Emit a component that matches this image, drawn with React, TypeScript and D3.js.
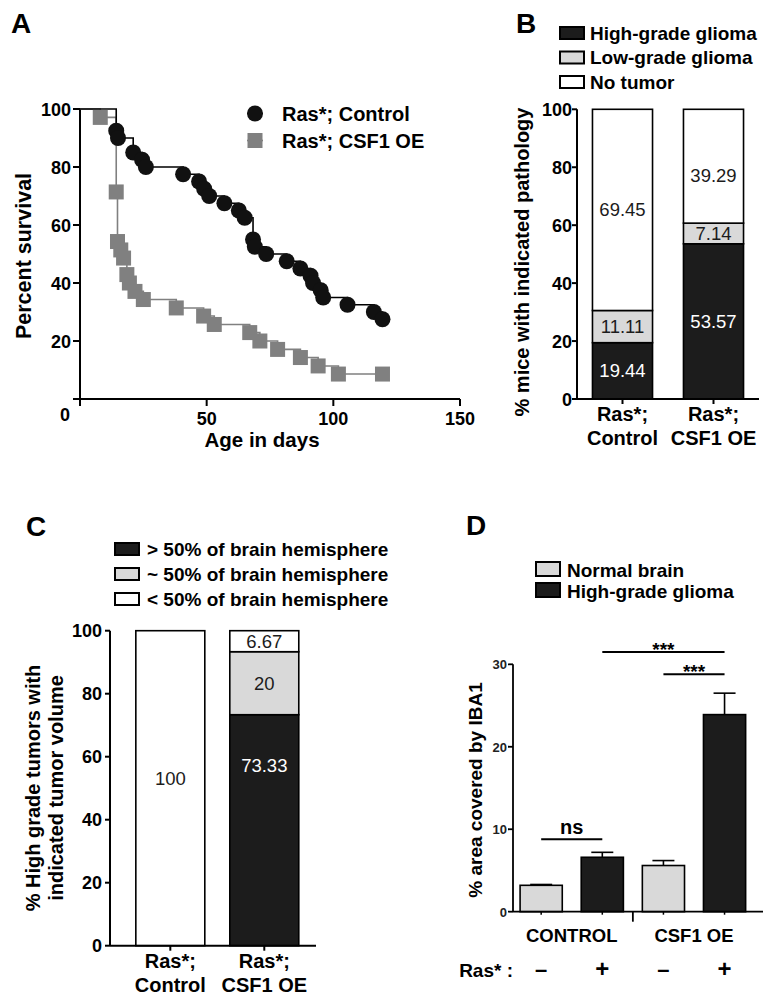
import React from "react";
import * as d3 from "d3";

// ---------------- DATA ----------------
// Panel A: Kaplan-Meier survival
const survivalSeries = ["Ras*; Control", "Ras*; CSF1 OE"];
const controlDays = [14.3, 15, 21, 24.5, 26, 40.7, 47, 49, 51, 57, 62.7, 65, 68.3, 69, 73.5, 81.6, 87, 91, 92, 95, 96, 105.6, 116, 119.4];
const controlSurv = [92.5, 90, 85, 82.5, 80, 77.5, 75, 72.5, 70, 67.5, 65, 62.5, 55, 52.5, 50, 47.5, 45, 42.5, 40, 37.5, 35, 32.5, 30, 27.5];
const csfDays = [8, 14.3, 14.8, 16.1, 17.2, 18.5, 19.5, 21.7, 25, 38, 48.8, 53, 67, 71, 78, 87, 94, 102, 119.4];
const csfSurv = [97.1, 71.4, 54.3, 51.4, 48.6, 42.9, 40, 37.1, 34.3, 31.4, 28.6, 25.7, 22.9, 20, 17.1, 14.3, 11.4, 8.6, 8.6];
const ageTicks = [0, 50, 100, 150];
const pctTicks = [0, 20, 40, 60, 80, 100];

// Panel B: pathology
const pathoGroups = ["Ras*;|Control", "Ras*;|CSF1 OE"];
const pathoCategories = ["High-grade glioma", "Low-grade glioma", "No tumor"];
const highGrade = [19.44, 53.57];
const lowGrade = [11.11, 7.14];
const noTumor = [69.45, 39.29];

// Panel C: tumor volume
const volGroups = ["Ras*;|Control", "Ras*;|CSF1 OE"];
const volCategories = ["> 50% of brain hemisphere", "~ 50% of brain hemisphere", "< 50% of brain hemisphere"];
const overHalf = [0, 73.33];
const aboutHalf = [0, 20];
const underHalf = [100, 6.67];

// Panel D: IBA1 coverage
const dTissues = ["Normal brain", "High-grade glioma"];
const dGroups = ["CONTROL", "CSF1 OE"];
const dRas = ["\u2013", "+", "\u2013", "+"];
const dMeans = [3.2, 6.6, 5.6, 23.9];
const dSem = [0.1, 0.6, 0.6, 2.6];
const dTicks = [0, 10, 20, 30];

// ---------------- STYLE ----------------
const FONT = "'Liberation Sans', Arial, Helvetica, sans-serif";
const BLACK = "#1c1c1c";
const LIGHT = "#d9d9d9";
const GRAY = "#808080";
const segFills = [BLACK, LIGHT, "#ffffff"];
const segText = ["#ffffff", "#1c1c1c", "#1c1c1c"];
const labelFracB = [[0.5, 0.5, 0.5], [0.5, 0.5, 0.42]];
const labelFracC = [[0.5, 0.5, 0.53], [0.78, 0.5, 0.5]];
const TICK_FS = 18;
const VAL_FS = 18.5;

function PanelA() {
  const x = d3.scaleLinear().domain([0, 150]).range([80, 460]);
  const y = d3.scaleLinear().domain([0, 100]).range([399, 109]);
  const line = d3.line<[number, number]>().x(d => x(d[0])).y(d => y(d[1])).curve(d3.curveStepAfter);
  const ctrl: [number, number][] = controlDays.map((d, i) => [d, controlSurv[i]]);
  const csf: [number, number][] = csfDays.map((d, i) => [d, csfSurv[i]]);
  return (
    <g fontFamily={FONT}>
      <text x={11} y={33} fontSize={28} fontWeight="bold">A</text>
      <line x1={x(0)} x2={x(0)} y1={y(0)} y2={y(100)} stroke="#000" strokeWidth={2} />
      <line x1={x(0)} x2={x(150)} y1={y(0)} y2={y(0)} stroke="#000" strokeWidth={2} />
      {pctTicks.map(t => (
        <g key={t}>
          <line x1={x(0) - 7} x2={x(0)} y1={y(t)} y2={y(t)} stroke="#000" strokeWidth={2} />
          {t > 0 && <text x={71} y={y(t) + 6.5} fontSize={TICK_FS} fontWeight="bold" textAnchor="end">{t}</text>}
        </g>
      ))}
      {ageTicks.map(t => (
        <g key={t}>
          <line x1={x(t)} x2={x(t)} y1={y(0)} y2={y(0) + 7} stroke="#000" strokeWidth={2} />
          {t > 0 && <text x={x(t)} y={425} fontSize={TICK_FS} fontWeight="bold" textAnchor="middle">{t}</text>}
        </g>
      ))}
      <text x={65} y={421} fontSize={TICK_FS} fontWeight="bold" textAnchor="middle">0</text>
      <text x={262} y={447} fontSize={20.5} fontWeight="bold" textAnchor="middle">Age in days</text>
      <text transform={`translate(31,256) rotate(-90)`} fontSize={21.5} fontWeight="bold" textAnchor="middle">Percent survival</text>
      <path d={line([[0, 100], ...csf]) || ""} fill="none" stroke={GRAY} strokeWidth={1.6} />
      <path d={line([[0, 100], ...ctrl]) || ""} fill="none" stroke="#000" strokeWidth={1.6} />
      {csf.map((d, i) => (
        <rect key={i} x={x(d[0]) - 7.5} y={y(d[1]) - 7.5} width={15} height={15} fill={GRAY} />
      ))}
      {ctrl.map((d, i) => (
        <circle key={i} cx={x(d[0])} cy={y(d[1])} r={8} fill="#111" />
      ))}
      {survivalSeries.map((s, i) => {
        const ly = 113.5 + i * 27;
        return (
          <g key={s}>
            <line x1={247} x2={263} y1={ly} y2={ly} stroke={i === 0 ? "#000" : GRAY} strokeWidth={1.6} />
            {i === 0 ? <circle cx={255} cy={ly} r={8} fill="#111" /> : <rect x={247.5} y={ly - 7.5} width={15} height={15} fill={GRAY} />}
            <text x={282} y={ly + 7} fontSize={20} fontWeight="bold">{s}</text>
          </g>
        );
      })}
    </g>
  );
}

function StackPanel(props: {
  letter: string; letterX: number; letterY: number;
  groups: string[]; cats: string[]; series: number[][];
  xRange: [number, number]; inner: number; outer: number; align: number;
  yRange: [number, number];
  tickRight: number; legendX: number; legendY: number; legendStep: number;
  textX: number; labelBase: number;
  titleLines: string[]; titleX: number[]; titleY: number;
  fracs: number[][];
}) {
  const p = props;
  const rows = p.groups.map((g, gi) => {
    const r: any = { group: g };
    p.cats.forEach((c, ci) => (r[c] = p.series[ci][gi]));
    return r;
  });
  const stacked = d3.stack<any>().keys(p.cats)(rows);
  const x = d3.scaleBand().domain(p.groups).range(p.xRange).paddingInner(p.inner).paddingOuter(p.outer).align(p.align);
  const y = d3.scaleLinear().domain([0, 100]).range(p.yRange);
  const bw = x.bandwidth();
  return (
    <g fontFamily={FONT}>
      <text x={p.letterX} y={p.letterY} fontSize={28} fontWeight="bold">{p.letter}</text>
      {p.cats.map((c, i) => (
        <g key={c}>
          <rect x={p.legendX} y={p.legendY + i * p.legendStep} width={24} height={12} fill={segFills[i]} stroke="#000" strokeWidth={2} />
          <text x={p.textX} y={p.legendY + i * p.legendStep + 12.5} fontSize={19} fontWeight="bold">{c}</text>
        </g>
      ))}
      {stacked.map((layer, li) =>
        layer.map((seg, gi) => {
          const v = seg[1] - seg[0];
          if (v <= 0) return null;
          const g = p.groups[gi];
          return (
            <rect key={`${li}-${gi}`} x={x(g)} y={y(seg[1])} width={bw} height={y(seg[0]) - y(seg[1])}
              fill={segFills[li]} stroke="#000" strokeWidth={1.6} />
          );
        })
      )}
      {stacked.map((layer, li) =>
        layer.map((seg, gi) => {
          const v = seg[1] - seg[0];
          if (v <= 0) return null;
          const g = p.groups[gi];
          const vy = y(seg[0] + v * p.fracs[gi][li]);
          return (
            <text key={`t${li}-${gi}`} x={(x(g) as number) + bw / 2} y={vy + 6.5} fontSize={VAL_FS} textAnchor="middle" fill={segText[li]}>
              {d3.format("")(v)}
            </text>
          );
        })
      )}
      <line x1={p.xRange[0]} x2={p.xRange[0]} y1={y(0)} y2={y(100)} stroke="#000" strokeWidth={2} />
      <line x1={p.xRange[0]} x2={p.xRange[1]} y1={y(0)} y2={y(0)} stroke="#000" strokeWidth={2} />
      {pctTicks.map(t => (
        <g key={t}>
          <line x1={p.xRange[0] - 5} x2={p.xRange[0]} y1={y(t)} y2={y(t)} stroke="#000" strokeWidth={2} />
          <text x={p.tickRight} y={y(t) + 6.5} fontSize={TICK_FS} fontWeight="bold" textAnchor="end">{t}</text>
        </g>
      ))}
      {p.groups.map(g => {
        const cx = (x(g) as number) + bw / 2;
        const [l1, l2] = g.split("|");
        return (
          <g key={g}>
            <line x1={cx} x2={cx} y1={y(0)} y2={y(0) + 5} stroke="#000" strokeWidth={2} />
            <text x={cx} y={p.labelBase} fontSize={20} fontWeight="bold" textAnchor="middle">{l1}</text>
            <text x={cx} y={p.labelBase + 24} fontSize={20} fontWeight="bold" textAnchor="middle">{l2}</text>
          </g>
        );
      })}
      {p.titleLines.map((t, i) => (
        <text key={t} transform={`translate(${p.titleX[i]},${p.titleY}) rotate(-90)`} fontSize={20} fontWeight="bold" textAnchor="middle">{t}</text>
      ))}
    </g>
  );
}

function PanelD() {
  const x = d3.scaleBand<number>().domain(d3.range(dMeans.length)).range([513, 763]).paddingInner(0.31).paddingOuter(0.2).align(0.29);
  const y = d3.scaleLinear().domain([0, 30]).range([911.7, 664.3]);
  const bw = x.bandwidth();
  const cx = (i: number) => (x(i) as number) + bw / 2;
  const sig = [
    { a: 0, b: 1, label: "ns", level: 8.8, size: 20, dy: -5 },
    { a: 1, b: 3, label: "***", level: 31.5, size: 19, dy: 4 },
    { a: 2, b: 3, label: "***", level: 28.8, size: 19, dy: 4 },
  ];
  return (
    <g fontFamily={FONT}>
      <text x={466} y={535} fontSize={28} fontWeight="bold">D</text>
      {dTissues.map((t, i) => (
        <g key={t}>
          <rect x={536} y={562 + i * 21} width={24} height={14} fill={i === 0 ? LIGHT : BLACK} stroke="#000" strokeWidth={2} />
          <text x={567} y={576.5 + i * 21} fontSize={19} fontWeight="bold">{t}</text>
        </g>
      ))}
      {dMeans.map((m, i) => (
        <g key={i}>
          <line x1={cx(i)} x2={cx(i)} y1={y(m)} y2={y(m + dSem[i])} stroke="#000" strokeWidth={1.6} />
          <line x1={cx(i) - 11} x2={cx(i) + 11} y1={y(m + dSem[i])} y2={y(m + dSem[i])} stroke="#000" strokeWidth={1.6} />
          <rect x={x(i)} y={y(m)} width={bw} height={y(0) - y(m)} fill={i % 2 === 0 ? LIGHT : BLACK} stroke="#000" strokeWidth={1.6} />
          <line x1={cx(i)} x2={cx(i)} y1={y(0)} y2={y(0) + 3} stroke="#000" strokeWidth={1.5} />
          <text x={cx(i)} y={977} fontSize={i % 2 === 0 ? 22 : 24} fontWeight="bold" textAnchor="middle">{dRas[i]}</text>
        </g>
      ))}
      <line x1={513} x2={513} y1={y(0)} y2={y(30)} stroke="#000" strokeWidth={1.8} />
      <line x1={513} x2={763} y1={y(0)} y2={y(0)} stroke="#000" strokeWidth={1.8} />
      {dTicks.map(t => (
        <g key={t}>
          <line x1={508} x2={513} y1={y(t)} y2={y(t)} stroke="#000" strokeWidth={1.8} />
          <text x={507} y={y(t) + 5} fontSize={13} fontWeight="bold" textAnchor="end" fill="#222">{t}</text>
        </g>
      ))}
      {dGroups.map((g, gi) => {
        const mid = (cx(gi * 2) + cx(gi * 2 + 1)) / 2;
        return <text key={g} x={mid} y={942} fontSize={18.5} fontWeight="bold" textAnchor="middle">{g}</text>;
      })}
      <line x1={(cx(1) + cx(2)) / 2} x2={(cx(1) + cx(2)) / 2} y1={y(0)} y2={y(0) + 10} stroke="#000" strokeWidth={1.8} />
      <text x={513} y={977} fontSize={19} fontWeight="bold" textAnchor="end">Ras* :</text>
      {sig.map((s, i) => (
        <g key={i}>
          <line x1={cx(s.a)} x2={cx(s.b)} y1={y(s.level)} y2={y(s.level)} stroke="#000" strokeWidth={2} />
          <text x={(cx(s.a) + cx(s.b)) / 2} y={y(s.level) + s.dy} fontSize={s.size} fontWeight="bold" textAnchor="middle">{s.label}</text>
        </g>
      ))}
      <text transform="translate(482,790) rotate(-90)" fontSize={19} fontWeight="bold" textAnchor="middle">% area covered by IBA1</text>
    </g>
  );
}

const titleXC = [40, 63];

export default function App() {
  return (
    <svg width={775} height={1006} style={{ position: "absolute", left: 0, top: 0, background: "#fff" }}>
      <rect width={775} height={1006} fill="#fff" />
      <PanelA />
      <StackPanel
        letter="B" letterX={516} letterY={33}
        groups={pathoGroups} cats={pathoCategories} series={[highGrade, lowGrade, noTumor]}
        xRange={[577, 759]} inner={0.34} outer={0.17} align={0.5}
        yRange={[399, 109.3]} tickRight={572}
        legendX={560} legendY={27} legendStep={24.5} textX={590}
        labelBase={421}
        titleLines={["% mice with indicated pathology"]} titleX={[529]} titleY={262}
        fracs={labelFracB}
      />
      <StackPanel
        letter="C" letterX={26} letterY={536}
        groups={volGroups} cats={volCategories} series={[overHalf, aboutHalf, underHalf]}
        xRange={[110, 316]} inner={0.266} outer={0.229} align={0.6}
        yRange={[945.7, 630.7]} tickRight={102}
        legendX={115} legendY={543} legendStep={25} textX={147}
        labelBase={968}
        titleLines={["% High grade tumors with", "indicated tumor volume"]} titleX={titleXC}
        titleY={788}
        fracs={labelFracC}
      />
      <PanelD />
    </svg>
  );
}
